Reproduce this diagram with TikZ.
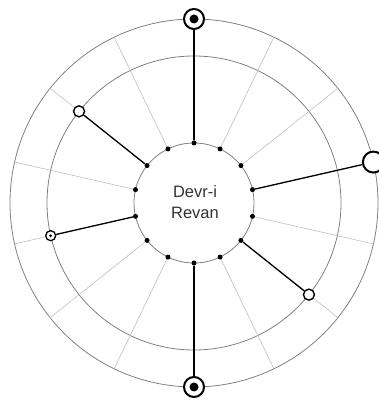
\documentclass[tikz,border=0pt]{standalone}
\usepackage{fontspec}
\setmainfont{Liberation Sans}
\begin{document}
\begin{tikzpicture}[x=1pt,y=1pt,
  ring/.style={draw=black!50,line width=0.8pt},
  spoke/.style={draw=black!25,line width=0.6pt},
  link/.style={draw=black,line width=1.3pt},
  dot/.style={circle,fill=black,inner sep=0pt,minimum size=5pt},
  bigsym/.style={circle,draw=black,fill=white,line width=2pt,inner sep=0pt,minimum size=20pt},
  smallsym/.style={circle,draw=black,fill=white,line width=1.4pt,inner sep=0pt,minimum size=11pt}]
\useasboundingbox (0,0) rectangle (378,404);
\begin{scope}[shift={(194,201)}]
% Rings
\draw[ring] (0,0) circle (60);
\draw[ring] (0,0) circle (147);
\draw[ring] (0,0) circle (184);
% Spokes, 14 directions
\foreach \k in {0,...,13}{
  \coordinate (i\k) at ({90+\k*360/14}:60);
  \coordinate (m\k) at ({90+\k*360/14}:147);
  \coordinate (o\k) at ({90+\k*360/14}:184);
  \draw[spoke] (i\k) -- (o\k);
}
% Symbols
\node[bigsym] (north) at (o0) {};
\fill (north.center) circle (4.5);
\node[bigsym] (south) at (o7) {};
\fill (south.center) circle (4.5);
\node[bigsym,minimum size=21pt] (east) at (o11) {};
\node[smallsym] (nwest) at (m2) {};
\node[smallsym] (seast) at (m9) {};
\node[smallsym,minimum size=10pt,line width=1.3pt] (west) at (m4) {};
\fill (west.center) circle (1.5);
% Dots on the inner ring
\foreach \k in {0,...,13}
  \node[dot] (d\k) at (i\k) {};
% Connectors
\draw[link] (d0) -- (north);
\draw[link] (d7) -- (south);
\draw[link] (d11) -- (east);
\draw[link] (d2) -- (nwest);
\draw[link] (d9) -- (seast);
\draw[link] (d4) -- (west);
% Name
\node[align=center,text=black!80,font=\fontsize{16.5}{21.5}\selectfont] (name) at (1,1) {Devr-i\\Revan};
\end{scope}
\end{tikzpicture}
\end{document}
